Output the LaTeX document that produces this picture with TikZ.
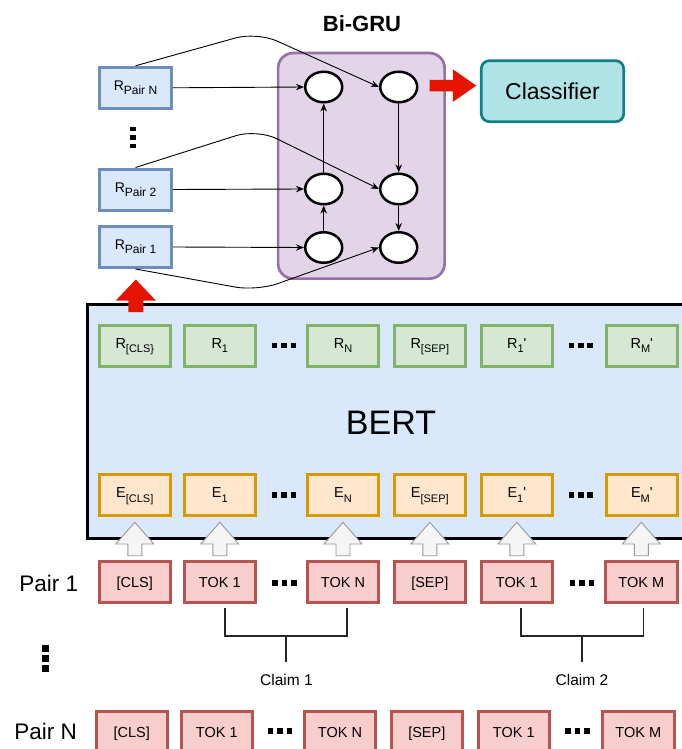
\documentclass[tikz,border=0pt]{standalone}
\usepackage{fontspec}
\setmainfont{Liberation Sans}
\usetikzlibrary{arrows.meta,shapes.geometric,calc}
\definecolor{tokfill}{HTML}{F8CECC}\definecolor{tokline}{HTML}{B85450}
\definecolor{rfill}{HTML}{D5E8D4}\definecolor{rline}{HTML}{82B366}
\definecolor{efill}{HTML}{FFE6CC}\definecolor{eline}{HTML}{D79B00}
\definecolor{pfill}{HTML}{DAE8FC}\definecolor{pline}{HTML}{6C8EBF}
\definecolor{bertfill}{HTML}{DAE8FC}
\definecolor{grufill}{HTML}{E1D5E7}\definecolor{gruline}{HTML}{9673A6}
\definecolor{clsfill}{HTML}{B0E3E6}\definecolor{clsline}{HTML}{0E8088}
\definecolor{redc}{HTML}{E51400}
\definecolor{arrfill}{HTML}{F5F5F5}\definecolor{arrline}{HTML}{999999}
\newcommand\mysub[1]{\raisebox{-0.3em}{\fontsize{11}{12}\selectfont #1}}
\newcommand\mypsub[1]{\raisebox{-0.3em}{\fontsize{12}{13}\selectfont #1}}
\newcommand\myprime{\textquotesingle}
\newcommand\myhdots{\rule{5.6pt}{5.6pt}\hspace{3.8pt}\rule{5.6pt}{5.6pt}\hspace{3.8pt}\rule{5.6pt}{5.6pt}}
\newcommand\myvdots[3]{\vbox{\hrule width #1 height #2 \vskip #3 \hrule width #1 height #2 \vskip #3 \hrule width #1 height #2}}
\tikzset{
  basebox/.style={draw, line width=3pt, minimum width=71.5pt, minimum height=41pt, inner sep=0pt, font=\fontsize{14.5}{16}\selectfont},
  tokbox/.style={basebox, fill=tokfill, draw=tokline, text height=10.4pt, text depth=0pt},
  subbox/.style={basebox, text height=10.4pt, text depth=5pt},
  rbox/.style={subbox, fill=rfill, draw=rline},
  ebox/.style={subbox, fill=efill, draw=eline},
  pbox/.style={subbox, fill=pfill, draw=pline, font=\fontsize{14}{16}\selectfont},
  grucell/.style={ellipse, draw=black, fill=white, line width=2.5pt, minimum width=37pt, minimum height=30.5pt, inner sep=0pt},
  conn/.style={line width=0.9pt, draw=black, -{Stealth[length=8pt,width=6.5pt]}},
  bracket/.style={line width=1.4pt, draw=black!85},
  dotsnode/.style={inner sep=0pt},
  pairlabel/.style={font=\fontsize{22.5}{24}\selectfont},
  claimlabel/.style={font=\fontsize{15.5}{17}\selectfont},
  hollowup/.pic={\draw[line width=0.9pt, draw=arrline, fill=arrfill] (-7,0) -- (-7,-11.7) -- (-19,-11.7) -- (0,-33.4) -- (19,-11.7) -- (7,-11.7) -- (7,0) -- cycle;},
  redup/.pic={\fill[redc] (-7.5,0) -- (-7.5,-11.6) -- (-20,-11.6) -- (0,-32.6) -- (20,-11.6) -- (7.5,-11.6) -- (7.5,0) -- cycle;},
  redright/.pic={\fill[redc] (0,-5.8) -- (23.4,-5.8) -- (23.4,-16.2) -- (46.7,0) -- (23.4,16.2) -- (23.4,5.8) -- (0,5.8) -- cycle;}
}
\begin{document}
\begin{tikzpicture}[x=1pt,y=-1pt]
\useasboundingbox (0,0) rectangle (681,749);
\fill[white] (0,0) rectangle (681,749);

% ---------- Bi-GRU ----------
\node[font=\bfseries\fontsize{22}{24}\selectfont] (grutitle) at (362,23.3) {Bi-GRU};
\node[draw=gruline, fill=grufill, line width=2.7pt, rounded corners=15pt, minimum width=166.5pt, minimum height=225.5pt] (gru) at (361.35,165.85) {};

\node[pbox] (rpn) at (135.5,87.8) {R\mypsub{Pair N}};
\node[pbox] (rp2) at (135.5,189.5) {R\mypsub{Pair 2}};
\node[pbox] (rp1) at (135.5,247) {R\mypsub{Pair 1}};
\node[dotsnode] (vd1) at (133,137.5) {\myvdots{6pt}{4.5pt}{3.8pt}};

\node[grucell] (cT1) at (323.7,87) {};
\node[grucell] (cT2) at (398.7,87) {};
\node[grucell] (cM1) at (323.7,189) {};
\node[grucell] (cM2) at (398.7,189) {};
\node[grucell] (cB1) at (323.7,247.5) {};
\node[grucell] (cB2) at (398.7,247.5) {};

\draw[conn] (rpn.east) -- (cT1.west);
\draw[conn] (rp2.east) -- (cM1.west);
\draw[conn] (rp1.east) -- (cB1.west);
\draw[conn] (cB1) -- (cM1);
\draw[conn] (cM1) -- (cT1);
\draw[conn] (cT2) -- (cM2);
\draw[conn] (cM2) -- (cB2);

\coordinate (wpN) at (257,32);
\coordinate (wp2) at (257,129);
\coordinate (wp1) at (257,291);
\draw[conn, rounded corners=22pt] (rpn.north) -- (wpN) -- (cT2.west);
\draw[conn, rounded corners=22pt] (rp2.north) -- (wp2) -- (cM2.west);
\draw[conn, rounded corners=22pt] (rp1.south) -- (wp1) -- (cB2.west);

% ---------- Classifier ----------
\node[draw=clsline, fill=clsfill, line width=2.7pt, rounded corners=8pt, minimum width=142.4pt, minimum height=61pt, font=\fontsize{23}{25}\selectfont] (cls) at (552.5,91.2) {Classifier};
\pic at ($(gru.east |- cT2)+(-16.4,-1.4)$) {redright};

% ---------- BERT ----------
\node[draw=black, fill=bertfill, line width=3pt, minimum width=613pt, minimum height=234pt, inner sep=0pt] (bert) at (393.5,421.5) {};
\node[font=\fontsize{34}{36}\selectfont] (bertlabel) at (391,422.7) {BERT};

\node[rbox] (r1) at (134.8,345.5) {R\mysub{[CLS\}}};
\node[rbox] (r2) at (219.8,345.5) {R\mysub{1}};
\node[rbox] (r3) at (343,345.5) {R\mysub{N}};
\node[rbox] (r4) at (429.8,345.5) {R\mysub{[SEP]}};
\node[rbox] (r5) at (516.8,345.5) {R\mysub{1}\myprime};
\node[rbox] (r6) at (641.8,345.5) {R\mysub{M}\myprime};
\node[dotsnode] (rd1) at (284,345.5) {\myhdots};
\node[dotsnode] (rd2) at (580.8,345.5) {\myhdots};

\node[ebox] (e1) at (134.8,495) {E\mysub{[CLS]}};
\node[ebox] (e2) at (219.8,495) {E\mysub{1}};
\node[ebox] (e3) at (343,495) {E\mysub{N}};
\node[ebox] (e4) at (429.8,495) {E\mysub{[SEP]}};
\node[ebox] (e5) at (516.8,495) {E\mysub{1}\myprime};
\node[ebox] (e6) at (641.8,495) {E\mysub{M}\myprime};
\node[dotsnode] (ed1) at (284,495) {\myhdots};
\node[dotsnode] (ed2) at (580.8,495) {\myhdots};

\pic at ($(r1.north)+(1,-11.4)$) {redup};

% ---------- Pair 1 ----------
\node[pairlabel] (pair1) at (48.8,583) {Pair 1};
\node[tokbox] (p1a) at (134.8,582) {[CLS]};
\node[tokbox] (p1b) at (219.8,582) {TOK 1};
\node[tokbox] (p1c) at (343,582) {TOK N};
\node[tokbox] (p1d) at (429.8,582) {[SEP]};
\node[tokbox] (p1e) at (516.8,582) {TOK 1};
\node[tokbox] (p1f) at (641.3,582) {TOK M};
\node[dotsnode] (pd1) at (284.6,583) {\myhdots};
\node[dotsnode] (pd2) at (582,583) {\myhdots};

\foreach \n in {p1a,p1b,p1c,p1d,p1e,p1f}{
  \pic at ($(\n.north)+(0,-4.3)$) {hollowup};
}

% brackets
\node[claimlabel] (claim1) at (286.5,680) {Claim 1};
\node[claimlabel] (claim2) at (582,680) {Claim 2};
\draw[bracket] ($(p1b.south)+(5,4)$) -- ($(p1b.south)+(5,32)$) -- ($(p1c.south)+(4,32)$) -- ($(p1c.south)+(4,4)$);
\draw[bracket] ($(p1e.south)+(4,4)$) -- ($(p1e.south)+(4,32)$) -- ($(p1f.south)+(2,32)$) -- ($(p1f.south)+(2,4)$);
\draw[bracket] ($(p1b.south)!0.5!(p1c.south)+(4.5,32)$) -- ($(p1b.south)!0.5!(p1c.south)+(4.5,58)$);
\draw[bracket] ($(p1e.south)!0.5!(p1f.south)+(3,32)$) -- ($(p1e.south)!0.5!(p1f.south)+(3,58)$);

\node[dotsnode] (vd2) at (45.6,658.5) {\myvdots{7pt}{7pt}{3pt}};

% ---------- Pair N ----------
\node[pairlabel] (pairN) at (45.6,731) {Pair N};
\node[tokbox] (pna) at (131.8,732) {[CLS]};
\node[tokbox] (pnb) at (216.8,732) {TOK 1};
\node[tokbox] (pnc) at (340,732) {TOK N};
\node[tokbox] (pnd) at (426.8,732) {[SEP]};
\node[tokbox] (pne) at (513.8,732) {TOK 1};
\node[tokbox] (pnf) at (638.3,732) {TOK M};
\node[dotsnode] (nd1) at (280,731) {\myhdots};
\node[dotsnode] (nd2) at (577.5,731) {\myhdots};
\end{tikzpicture}
\end{document}
